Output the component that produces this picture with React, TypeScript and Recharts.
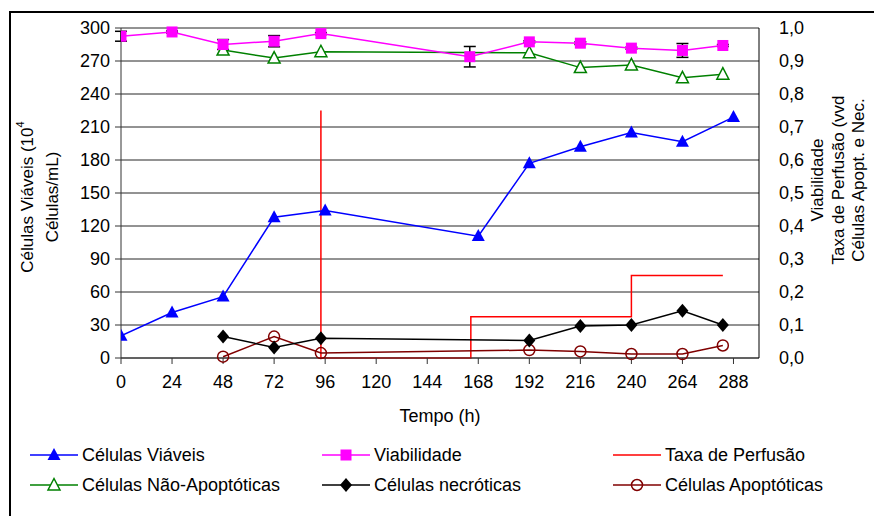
import React from "react";
import { LineChart, Line, XAxis, YAxis, CartesianGrid, ErrorBar } from "recharts";

// tempo (h) e valores
const viableHours = [0, 24, 48, 72, 96, 168, 192, 216, 240, 264, 288];
const viableCells = [20.2, 41.4, 55.8, 128, 134, 110.8, 177, 192, 205, 196.7, 219];

const viabHours = [0, 24, 48, 72, 94, 164, 192, 216, 240, 264, 283];
const viability = [0.975, 0.988, 0.95, 0.96, 0.983, 0.913, 0.958, 0.954, 0.939, 0.932, 0.947];
const viabilityErr = [0.015, 0.003, 0.015, 0.017, 0.003, 0.031, 0.003, 0.004, 0.003, 0.021, 0.003];

const perfHours = [94, 94, 164.5, 164.5, 240, 240, 283];
const perfRate = [0.75, 0, 0, 0.125, 0.125, 0.25, 0.25];

const flowHours = [48, 72, 94, 192, 216, 240, 264, 283];
const nonApoptotic = [0.933, 0.909, 0.928, 0.925, 0.88, 0.888, 0.849, 0.86];
const necrotic = [0.065, 0.032, 0.06, 0.053, 0.097, 0.1, 0.143, 0.1];
const apoptotic = [0.004, 0.065, 0.015, 0.024, 0.02, 0.012, 0.012, 0.038];

const xTicks = [0, 24, 48, 72, 96, 120, 144, 168, 192, 216, 240, 264, 288];
const leftTicks = [0, 30, 60, 90, 120, 150, 180, 210, 240, 270, 300];
const rightTicks = [0, 0.1, 0.2, 0.3, 0.4, 0.5, 0.6, 0.7, 0.8, 0.9, 1.0];

const FONT = "'Liberation Sans', Arial, sans-serif";

const zip = (xs: number[], ys: number[], errs?: number[]) =>
  xs.map((t, i) => ({ t, v: ys[i], err: errs ? errs[i] : 0 }));

const viableData = zip(viableHours, viableCells);
const viabData = zip(viabHours, viability, viabilityErr);
const perfData = zip(perfHours, perfRate);
const nonApoData = zip(flowHours, nonApoptotic);
const necroData = zip(flowHours, necrotic);
const apoData = zip(flowHours, apoptotic);

type Mk = "triFill" | "square" | "triOpen" | "diamond" | "circle";

function Marker({ kind, cx, cy, color }: { kind: Mk; cx: number; cy: number; color: string }) {
  if (kind === "triFill")
    return <path d={`M${cx},${cy - 7} L${cx + 6.5},${cy + 5} L${cx - 6.5},${cy + 5} Z`} fill={color} />;
  if (kind === "triOpen")
    return (
      <path
        d={`M${cx},${cy - 6.5} L${cx + 6},${cy + 5} L${cx - 6},${cy + 5} Z`}
        fill="#fff"
        stroke={color}
        strokeWidth={1.5}
      />
    );
  if (kind === "square") return <rect x={cx - 5.5} y={cy - 5.5} width={11} height={11} fill={color} />;
  if (kind === "diamond")
    return <path d={`M${cx},${cy - 7} L${cx + 6},${cy} L${cx},${cy + 7} L${cx - 6},${cy} Z`} fill={color} />;
  return <circle cx={cx} cy={cy} r={5.5} fill="none" stroke={color} strokeWidth={1.5} />;
}

const dotOf = (kind: Mk, color: string) => (p: any) =>
  <Marker key={`${kind}-${p.index}`} kind={kind} cx={p.cx} cy={p.cy} color={color} />;

const legendItems: { label: string; color: string; kind: Mk | null; x: number; y: number }[] = [
  { label: "Células Viáveis", color: "#0000ff", kind: "triFill", x: 30, y: 455 },
  { label: "Viabilidade", color: "#ff00ff", kind: "square", x: 322, y: 455 },
  { label: "Taxa de Perfusão", color: "#ff0000", kind: null, x: 613, y: 455 },
  { label: "Células Não-Apoptóticas", color: "#008000", kind: "triOpen", x: 30, y: 485 },
  { label: "Células necróticas", color: "#000000", kind: "diamond", x: 322, y: 485 },
  { label: "Células Apoptóticas", color: "#800000", kind: "circle", x: 613, y: 485 },
];

export default function App() {
  return (
    <div
      style={{
        position: "fixed",
        left: 0,
        top: 0,
        width: 874,
        height: 516,
        overflow: "hidden",
        background: "#fff",
        fontFamily: FONT,
      }}
    >
      <div
        style={{
          position: "absolute",
          left: 9,
          top: 11,
          width: 900,
          height: 540,
          border: "2px solid #000",
        }}
      />
      <div style={{ position: "absolute", left: 0, top: 0 }}>
        <LineChart width={874} height={516} margin={{ top: 28, right: 55, bottom: 118, left: 61 }}>
          <CartesianGrid yAxisId="left" vertical={false} stroke="#000" strokeOpacity={0.85} />
          <XAxis
            type="number"
            dataKey="t"
            domain={[0, 300]}
            ticks={xTicks}
            allowDataOverflow
            height={40}
            tickSize={6}
            tickMargin={11}
            stroke="#333"
            tick={{ fill: "#000", fontSize: 18, fontFamily: FONT }}
          />
          <YAxis
            yAxisId="left"
            domain={[0, 300]}
            ticks={leftTicks}
            width={60}
            tickSize={6}
            tickMargin={5}
            stroke="#333"
            tick={{ fill: "#000", fontSize: 18, fontFamily: FONT }}
          />
          <YAxis
            yAxisId="right"
            orientation="right"
            domain={[0, 1]}
            ticks={rightTicks}
            width={60}
            tickLine={false}
            tickMargin={14}
            stroke="#000"
            tickFormatter={(v: number) => v.toFixed(1).replace(".", ",")}
            tick={{ fill: "#000", fontSize: 18, fontFamily: FONT, textAnchor: "start" }}
          />
          <Line
            yAxisId="right"
            data={perfData}
            dataKey="v"
            stroke="#ff0000"
            strokeWidth={1.5}
            dot={false}
            isAnimationActive={false}
          />
          <Line
            yAxisId="right"
            data={apoData}
            dataKey="v"
            stroke="#800000"
            strokeWidth={1.5}
            dot={dotOf("circle", "#800000")}
            isAnimationActive={false}
          />
          <Line
            yAxisId="right"
            data={necroData}
            dataKey="v"
            stroke="#000"
            strokeWidth={1.5}
            dot={dotOf("diamond", "#000")}
            isAnimationActive={false}
          />
          <Line
            yAxisId="right"
            data={nonApoData}
            dataKey="v"
            stroke="#008000"
            strokeWidth={1.5}
            dot={dotOf("triOpen", "#008000")}
            isAnimationActive={false}
          />
          <Line
            yAxisId="right"
            data={viabData}
            dataKey="v"
            stroke="#ff00ff"
            strokeWidth={1.5}
            dot={dotOf("square", "#ff00ff")}
            isAnimationActive={false}
          >
            <ErrorBar dataKey="err" direction="y" width={6} stroke="#000" strokeWidth={1.5} />
          </Line>
          <Line
            yAxisId="left"
            data={viableData}
            dataKey="v"
            stroke="#0000ff"
            strokeWidth={1.5}
            dot={dotOf("triFill", "#0000ff")}
            isAnimationActive={false}
          />
        </LineChart>
      </div>
      <svg width={874} height={516} style={{ position: "absolute", left: 0, top: 0, pointerEvents: "none" }}>
        <g fontFamily={FONT} fontSize={17} fill="#000" textAnchor="middle">
          <text x={27} y={197} transform="rotate(-90 27 197)" dominantBaseline="central">
            Células Viáveis (10
            <tspan fontSize={11} dy={-7}>4</tspan>
          </text>
          <text x={52} y={197} transform="rotate(-90 52 197)" dominantBaseline="central">
            Células/mL)
          </text>
          <text x={817} y={180} transform="rotate(-90 817 180)" dominantBaseline="central">
            Viabilidade
          </text>
          <text x={838} y={180} transform="rotate(-90 838 180)" dominantBaseline="central">
            Taxa de Perfusão (vvd
          </text>
          <text x={858} y={180} transform="rotate(-90 858 180)" dominantBaseline="central">
            Células Apopt. e Nec.
          </text>
          <text x={440} y={416} fontSize={18} dominantBaseline="central">
            Tempo (h)
          </text>
        </g>
        {legendItems.map((it) => (
          <g key={it.label}>
            <line x1={it.x} x2={it.x + 48} y1={it.y} y2={it.y} stroke={it.color} strokeWidth={1.5} />
            {it.kind && <Marker kind={it.kind} cx={it.x + 24} cy={it.y} color={it.color} />}
            <text
              x={it.x + 52}
              y={it.y}
              fontFamily={FONT}
              fontSize={18}
              fill="#000"
              dominantBaseline="central"
            >
              {it.label}
            </text>
          </g>
        ))}
      </svg>
    </div>
  );
}
